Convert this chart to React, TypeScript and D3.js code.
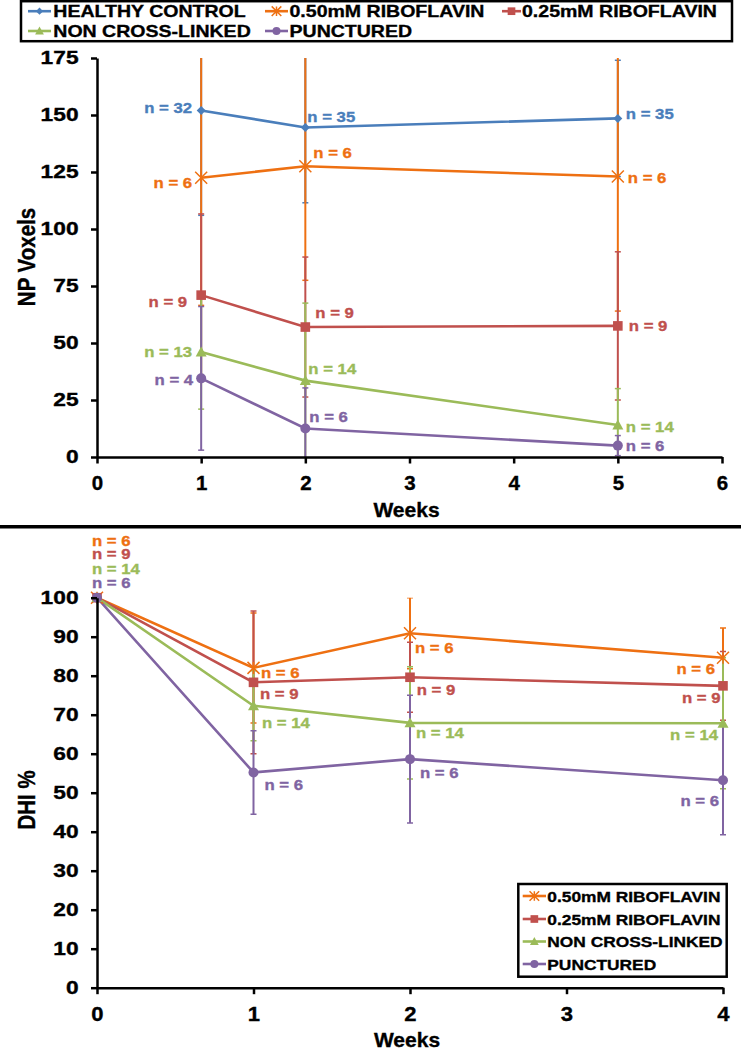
//@ts-nocheck
import React, { useRef, useEffect } from 'react'
import * as d3 from 'd3'

// series (same order in both panels, healthy control only in the top one)
const seriesNames = ['HEALTHY CONTROL', '0.50mM RIBOFLAVIN', '0.25mM RIBOFLAVIN', 'NON CROSS-LINKED', 'PUNCTURED']
const seriesColors = ['#4A7EBB', '#EE7012', '#C0504D', '#9BBB59', '#8064A2']
const seriesMarkers = ['diamond', 'star', 'square', 'triangle', 'circle']

// top panel: NP voxels
const npWeeks = [1, 2, 5]
const npHealthy = [152, 144.5, 148.5]
const npHealthyErr = [46, 33, 25.5]
const npHealthyN = [32, 35, 35]
const npRib50 = [122.5, 127.5, 123]
const npRib50Err = [56, 50, 59]
const npRib50N = [6, 6, 6]
const npRib25 = [71, 57, 57.5]
const npRib25Err = [35.6, 30.7, 32.5]
const npRib25N = [9, 9, 9]
const npNcx = [46, 33.5, 14]
const npNcxErr = [25, 34, 16]
const npNcxN = [13, 14, 14]
const npPunc = [34.5, 12.5, 5]
const npPuncErr = [31.5, 17.8, 4.4]
const npPuncN = [4, 6, 6]
const npYTicks = [0, 25, 50, 75, 100, 125, 150, 175]
const npXTicks = [0, 1, 2, 3, 4, 5, 6]

// bottom panel: DHI %
const dhiWeeks = [0, 1, 2, 4]
const dhiRib50 = [100, 82, 90.9, 84.6]
const dhiRib50Err = [0, 14.1, 9.1, 7.6]
const dhiRib50N = [6, 6, 6, 6]
const dhiRib25 = [100, 78.3, 79.6, 77.4]
const dhiRib25Err = [0, 18.3, 9, 8.8]
const dhiRib25N = [9, 9, 9, 9]
const dhiNcx = [100, 72.3, 67.9, 67.8]
const dhiNcxErr = [0, 9, 14.4, 16.8]
const dhiNcxN = [14, 14, 14, 14]
const dhiPunc = [100, 55.2, 58.6, 53.2]
const dhiPuncErr = [0, 10.7, 16.4, 14]
const dhiPuncN = [6, 6, 6, 6]
const dhiYTicks = [0, 10, 20, 30, 40, 50, 60, 70, 80, 90, 100]
const dhiXTicks = [0, 1, 2, 3, 4]

// label placement relative to the point: [dx, dy, anchor]
const npLabelPos = [
  [[-9, 3, 'end'], [2, -6, 'start'], [8, 1, 'start']],
  [[-9, 10.5, 'end'], [8, -8, 'start'], [10, 6.7, 'start']],
  [[-14, 11.6, 'end'], [10, -8.7, 'start'], [11, 4.8, 'start']],
  [[-9, 5.2, 'end'], [3, -6.3, 'start'], [8, 7.2, 'start']],
  [[-8, 6.7, 'end'], [4, -6.8, 'start'], [8, 5.1, 'start']]
]
const dhiLabelPos = [
  [[-5, -52, 'start'], [7.5, 10, 'start'], [5, 19.5, 'start'], [-8, 16, 'end']],
  [[-5, -38.3, 'start'], [6.5, 17, 'start'], [6.7, 17.7, 'start'], [-2.5, 17, 'end']],
  [[-5, -23.8, 'start'], [8.5, 22.6, 'start'], [6, 14.8, 'start'], [-5, 16.7, 'end']],
  [[-5, -9.5, 'start'], [11, 18, 'start'], [10, 19, 'start'], [-4, 26, 'end']]
]

const FONT = '"Liberation Sans", Arial, Helvetica, sans-serif'

function txt(g, x, y, s, o) {
  const fill = o.fill || '#000'
  return g
    .append('text')
    .attr('transform', `translate(${x},${y}) scale(${o.sx || 1},1)${o.rot ? ' rotate(-90)' : ''}`)
    .attr('text-anchor', o.anchor || 'start')
    .attr('font-family', FONT)
    .attr('font-weight', 'bold')
    .attr('font-size', o.size)
    .attr('fill', fill)
    .attr('stroke', fill)
    .attr('stroke-width', 0.35)
    .text(s)
}

function marker(g, type, color, x, y, k = 1) {
  const m = g.append('g').attr('transform', `translate(${x},${y})`)
  if (type === 'diamond') {
    const r = 4.5 * k
    m.append('path').attr('d', `M0,${-r}L${r},0L0,${r}L${-r},0Z`).attr('fill', color)
  } else if (type === 'star') {
    const r = 6 * k
    m.append('path')
      .attr('d', `M${-r},${-r}L${r},${r}M${-r},${r}L${r},${-r}M0,${-r}L0,${r}`)
      .attr('stroke', color)
      .attr('stroke-width', 1.5)
      .attr('fill', 'none')
  } else if (type === 'square') {
    const r = 4.8 * k
    m.append('rect').attr('x', -r).attr('y', -r).attr('width', 2 * r).attr('height', 2 * r).attr('fill', color)
  } else if (type === 'triangle') {
    const r = 5.5 * k
    m.append('path').attr('d', `M0,${-r}L${r},${r * 0.8}L${-r},${r * 0.8}Z`).attr('fill', color)
  } else {
    m.append('circle').attr('r', 5 * k).attr('fill', color)
  }
}

function panel(svg, cfg) {
  const { x, y, series, weeks, labelPos, xTicks, yTicks, clipId, xFont, xPad, yLabel, yLabelY, weeksY } = cfg
  const g = svg.append('g')

  g.append('clipPath')
    .attr('id', clipId)
    .append('rect')
    .attr('x', x.range()[0] - 10)
    .attr('y', y.range()[1])
    .attr('width', x.range()[1] - x.range()[0] + 20)
    .attr('height', y.range()[0] - y.range()[1])

  const plot = g.append('g').attr('clip-path', `url(#${clipId})`)

  // error bars first, then lines, then markers
  series.forEach((s) => {
    s.values.forEach((v, i) => {
      const e = s.err[i]
      if (!e) return
      const cx = x(weeks[i])
      plot.append('line').attr('x1', cx).attr('x2', cx).attr('y1', y(v - e)).attr('y2', y(v + e))
        .attr('stroke', s.color).attr('stroke-width', 2)
      ;[v - e, v + e].forEach((c) => {
        plot.append('line').attr('x1', cx - 3).attr('x2', cx + 3).attr('y1', y(c)).attr('y2', y(c))
          .attr('stroke', s.color).attr('stroke-width', 1.5)
      })
    })
  })

  const line = d3.line().x((d) => x(d[0])).y((d) => y(d[1]))
  series.forEach((s) => {
    plot.append('path')
      .attr('d', line(s.values.map((v, i) => [weeks[i], v])))
      .attr('fill', 'none')
      .attr('stroke', s.color)
      .attr('stroke-width', 2.6)
  })
  series.forEach((s) => {
    s.values.forEach((v, i) => marker(g, s.marker, s.color, x(weeks[i]), y(v)))
  })

  // axes
  const yAxis = g.append('g')
    .attr('transform', `translate(${x.range()[0]},0)`)
    .call(d3.axisLeft(y).tickValues(yTicks).tickFormat(d3.format('d')).tickSize(6).tickSizeOuter(0).tickPadding(8.2))
  const xAxis = g.append('g')
    .attr('transform', `translate(0,${y.range()[0]})`)
    .call(d3.axisBottom(x).tickValues(xTicks).tickFormat(d3.format('d')).tickSize(6.5).tickSizeOuter(0).tickPadding(xPad))
  ;[yAxis, xAxis].forEach((a) => {
    a.attr('font-family', FONT).attr('font-weight', 'bold')
    a.selectAll('path, line').attr('stroke', '#000').attr('stroke-width', 2.5)
    a.selectAll('.tick text').attr('fill', '#000').attr('stroke', '#000').attr('stroke-width', 0.35)
  })
  yAxis.attr('font-size', 17.5)
  yAxis.selectAll('.tick text').attr('transform', 'scale(1.3,1)')
  xAxis.attr('font-size', xFont)
  xAxis.selectAll('.tick text').attr('transform', 'scale(1.05,1)')

  // n labels
  series.forEach((s, si) => {
    s.values.forEach((v, i) => {
      const [dx, dy, anchor] = labelPos[si][i]
      txt(g, x(weeks[i]) + dx, y(v) + dy, `n = ${s.n[i]}`, { size: 15.5, sx: 1.08, anchor, fill: s.color })
    })
  })

  txt(g, 35, yLabelY, yLabel, { size: 20.5, sx: 1.14, anchor: 'middle', rot: true })
  txt(g, (x.range()[0] + x.range()[1]) / 2 - 3, weeksY, 'Weeks', { size: 21, anchor: 'middle' })
}

function legendItem(g, i, x0, x1, tx, cy, size, sx) {
  g.append('line').attr('x1', x0).attr('x2', x1).attr('y1', cy).attr('y2', cy)
    .attr('stroke', seriesColors[i]).attr('stroke-width', 2.6)
  marker(g, seriesMarkers[i], seriesColors[i], (x0 + x1) / 2, cy, 0.8)
  txt(g, tx, cy + size * 0.36, seriesNames[i], { size, sx })
}

const App = () => {
  const node = useRef(null)

  useEffect(() => {
    const svg = d3.select(node.current)
    svg.selectAll('*').remove()
    svg.append('rect').attr('width', 741).attr('height', 1050).attr('fill', '#fff')

    // top legend
    const lg = svg.append('g')
    lg.append('rect').attr('x', 21).attr('y', 1.2).attr('width', 711).attr('height', 40)
      .attr('fill', '#fff').attr('stroke', '#000').attr('stroke-width', 2.5)
    legendItem(lg, 0, 28, 51, 53.3, 11.2, 17.3, 1.13)
    legendItem(lg, 1, 265, 288, 289.5, 11.2, 17.3, 1.13)
    legendItem(lg, 2, 502, 521, 522, 11.2, 17.3, 1.13)
    legendItem(lg, 3, 28, 51, 53.3, 31, 17.3, 1.13)
    legendItem(lg, 4, 265, 288, 289.5, 31, 17.3, 1.13)

    const npValues = [npHealthy, npRib50, npRib25, npNcx, npPunc]
    const npErrs = [npHealthyErr, npRib50Err, npRib25Err, npNcxErr, npPuncErr]
    const npNs = [npHealthyN, npRib50N, npRib25N, npNcxN, npPuncN]
    const npSeries = npValues.map((values, i) => ({
      values, err: npErrs[i], n: npNs[i], color: seriesColors[i], marker: seriesMarkers[i]
    }))
    panel(svg, {
      x: d3.scaleLinear().domain([0, 6]).range([97, 722]),
      y: d3.scaleLinear().domain([0, 175]).range([457, 58]),
      series: npSeries,
      weeks: npWeeks,
      labelPos: npLabelPos,
      xTicks: npXTicks,
      yTicks: npYTicks,
      clipId: 'clipTop',
      xFont: 19.5,
      xPad: 12.5,
      yLabel: 'NP Voxels',
      yLabelY: 257,
      weeksY: 517
    })

    // separator
    svg.append('line').attr('x1', 0).attr('x2', 741).attr('y1', 526.7).attr('y2', 526.7)
      .attr('stroke', '#000').attr('stroke-width', 3.5)

    const dhiValues = [dhiRib50, dhiRib25, dhiNcx, dhiPunc]
    const dhiErrs = [dhiRib50Err, dhiRib25Err, dhiNcxErr, dhiPuncErr]
    const dhiNs = [dhiRib50N, dhiRib25N, dhiNcxN, dhiPuncN]
    const dhiSeries = dhiValues.map((values, i) => ({
      values, err: dhiErrs[i], n: dhiNs[i], color: seriesColors[i + 1], marker: seriesMarkers[i + 1]
    }))
    panel(svg, {
      x: d3.scaleLinear().domain([0, 4]).range([97, 723]),
      y: d3.scaleLinear().domain([0, 100]).range([987.7, 597.7]),
      series: dhiSeries,
      weeks: dhiWeeks,
      labelPos: dhiLabelPos,
      xTicks: dhiXTicks,
      yTicks: dhiYTicks,
      clipId: 'clipBottom',
      xFont: 21,
      xPad: 12,
      yLabel: 'DHI %',
      yLabelY: 800,
      weeksY: 1047
    })

    // bottom legend
    const bl = svg.append('g')
    bl.append('rect').attr('x', 518.3).attr('y', 884).attr('width', 208.4).attr('height', 92.7)
      .attr('fill', '#fff').attr('stroke', '#000').attr('stroke-width', 2.5)
    ;[896, 919, 941.5, 964].forEach((cy, i) => legendItem(bl, i + 1, 522.7, 546, 547.3, cy, 15.5, 1.12))
  }, [])

  return <svg ref={node} width={741} height={1050} style={{ position: 'absolute', left: 0, top: 0 }} />
}

export default App
